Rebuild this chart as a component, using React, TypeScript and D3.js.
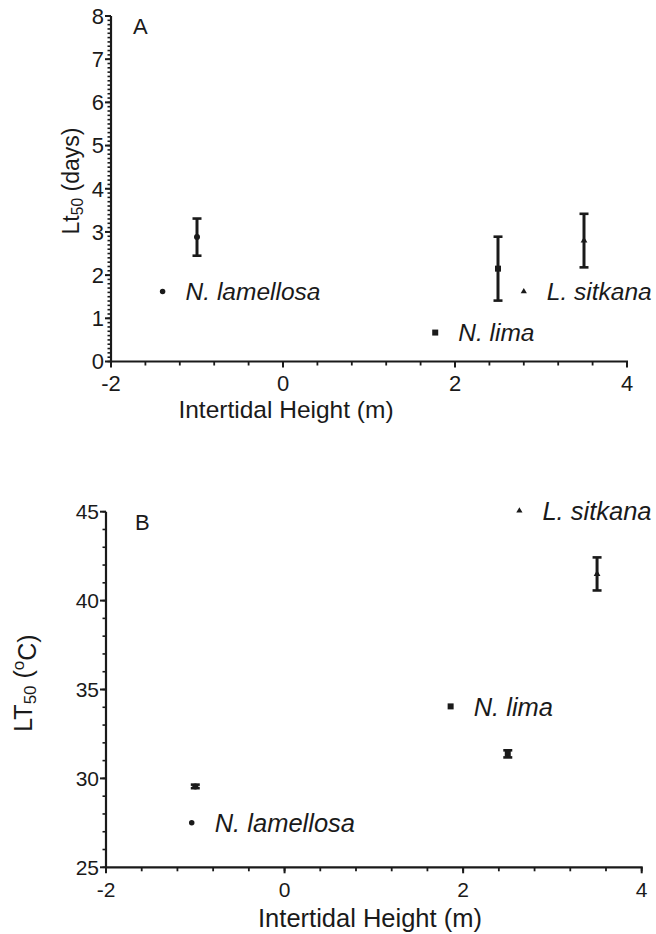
import React from "react";
import * as d3 from "d3";

// species, x positions (intertidal height, m)
const species = ["N. lamellosa", "N. lima", "L. sitkana"];
const shapes = ["circle", "square", "triangle"];
const heights = [-1, 2.5, 3.5];

// panel A: LT50 in days (mean, +/- error)
const daysMean = [2.88, 2.15, 2.8];
const daysErr = [0.43, 0.74, 0.62];
// panel B: LT50 in degrees C
const tempMean = [29.55, 31.38, 41.5];
const tempErr = [0.1, 0.2, 0.93];

// legend anchors (data coordinates)
const legendA = [
  [-1.4, 1.62],
  [1.77, 0.67],
  [2.8, 1.62],
];
const legendB = [
  [-1.04, 27.5],
  [1.86, 34.05],
  [2.63, 45.05],
];

const xTicks = [-2, 0, 2, 4];
const yTicksA = [0, 1, 2, 3, 4, 5, 6, 7, 8];
const yTicksB = [25, 30, 35, 40, 45];

const FONT = "'Liberation Sans', Arial, Helvetica, sans-serif";
const INK = "#1a1a1a";

type PanelProps = {
  top: number;
  left: number;
  right: number;
  bottom: number;
  yDomain: [number, number];
  yTicks: number[];
  yMinorStep: number;
  means: number[];
  errs: number[];
  legend: number[][];
  letter: string;
  letterX: number;
  yLabel: React.ReactNode;
  yLabelX: number;
  yLabelY: number;
  yLabelSize: number;
  titleX: number;
  titleBase: number;
  titleSize: number;
  tickSize: number;
  legendSize: number;
};

const Marker = ({ shape, x, y, s }: { shape: string; x: number; y: number; s: number }) => {
  if (shape === "circle") return <circle cx={x} cy={y} r={s * 0.5} fill={INK} />;
  if (shape === "square")
    return <rect x={x - s / 2} y={y - s / 2} width={s} height={s} fill={INK} />;
  const sym = d3.symbol(d3.symbolTriangle, s * s * 0.55)();
  return <path d={sym || ""} transform={`translate(${x},${y})`} fill={INK} />;
};

const Panel = (p: PanelProps) => {
  const x = d3.scaleLinear().domain([-2, 4]).range([p.left, p.right]);
  const y = d3.scaleLinear().domain(p.yDomain).range([p.bottom, p.top]);
  const xMinor = d3.range(-2, 4.001, 0.4);
  const nMinor = Math.round((p.yDomain[1] - p.yDomain[0]) / p.yMinorStep);
  const yMinor = d3.range(0, nMinor + 1).map((i) => p.yDomain[0] + i * p.yMinorStep);

  return (
    <g fontFamily={FONT} fill={INK}>
      {/* axes */}
      <line x1={p.left} x2={p.left} y1={p.top} y2={p.bottom + 1} stroke={INK} strokeWidth={2.2} />
      <line x1={p.left - 1} x2={p.right + 1} y1={p.bottom} y2={p.bottom} stroke={INK} strokeWidth={2.2} />
      {yMinor.map((v, i) => (
        <line key={"ym" + i} x1={p.left - 3.5} x2={p.left} y1={y(v)} y2={y(v)} stroke={INK} strokeWidth={1.6} />
      ))}
      {p.yTicks.map((v) => (
        <g key={"y" + v}>
          <line x1={p.left - 6} x2={p.left} y1={y(v)} y2={y(v)} stroke={INK} strokeWidth={2} />
          <text x={p.left - 7} y={y(v)} dy="0.36em" textAnchor="end" fontSize={p.tickSize}>
            {v}
          </text>
        </g>
      ))}
      {xMinor.map((v, i) => (
        <line key={"xm" + i} x1={x(v)} x2={x(v)} y1={p.bottom} y2={p.bottom + 4} stroke={INK} strokeWidth={1.8} />
      ))}
      {xTicks.map((v) => (
        <g key={"x" + v}>
          <line x1={x(v)} x2={x(v)} y1={p.bottom} y2={p.bottom + 6} stroke={INK} strokeWidth={2} />
          <text x={x(v)} y={p.bottom + 29.5} textAnchor="middle" fontSize={p.tickSize}>
            {v}
          </text>
        </g>
      ))}
      <text x={p.titleX} y={p.titleBase} textAnchor="middle" fontSize={p.titleSize}>
        Intertidal Height (m)
      </text>
      <text
        transform={`translate(${p.yLabelX},${p.yLabelY}) rotate(-90)`}
        textAnchor="middle"
        fontSize={p.yLabelSize}
      >
        {p.yLabel}
      </text>
      <text x={p.letterX} y={p.top + 18} fontSize={22}>
        {p.letter}
      </text>

      {/* error bars + means */}
      {heights.map((h, i) => {
        const cx = x(h);
        const y0 = y(p.means[i] - p.errs[i]);
        const y1 = y(p.means[i] + p.errs[i]);
        return (
          <g key={"e" + i}>
            <line x1={cx} x2={cx} y1={y0} y2={y1} stroke={INK} strokeWidth={3} />
            <line x1={cx - 4.5} x2={cx + 4.5} y1={y0} y2={y0} stroke={INK} strokeWidth={2.6} />
            <line x1={cx - 4.5} x2={cx + 4.5} y1={y1} y2={y1} stroke={INK} strokeWidth={2.6} />
            <Marker shape={shapes[i]} x={cx} y={y(p.means[i])} s={6} />
          </g>
        );
      })}

      {/* legend labels */}
      {species.map((s, i) => {
        const lx = x(p.legend[i][0]);
        const ly = y(p.legend[i][1]);
        return (
          <g key={"l" + i}>
            <Marker shape={shapes[i]} x={lx} y={ly} s={i === 1 ? 6 : 5.5} />
            <text x={lx + 23} y={ly} dy="0.36em" fontSize={p.legendSize} fontStyle="italic">
              {s}
            </text>
          </g>
        );
      })}
    </g>
  );
};

export default function App() {
  return (
    <svg
      width={656}
      height={934}
      style={{ position: "absolute", left: 0, top: 0, background: "#fff" }}
    >
      <rect width={656} height={934} fill="#fff" />
      <Panel
        top={16}
        bottom={361.5}
        left={111}
        right={627}
        yDomain={[0, 8]}
        yTicks={yTicksA}
        yMinorStep={0.1}
        means={daysMean}
        errs={daysErr}
        legend={legendA}
        letter="A"
        letterX={133}
        yLabel={
          <>
            Lt
            <tspan fontSize="0.68em" dy="0.25em">50</tspan>
            <tspan dy="-0.17em"> (days)</tspan>
          </>
        }
        yLabelX={79}
        yLabelY={181}
        yLabelSize={23}
        titleX={286}
        titleBase={418}
        titleSize={24.5}
        tickSize={22}
        legendSize={24.5}
      />
      <Panel
        top={511.7}
        bottom={867.3}
        left={106}
        right={641.7}
        yDomain={[25, 45]}
        yTicks={yTicksB}
        yMinorStep={1}
        means={tempMean}
        errs={tempErr}
        legend={legendB}
        letter="B"
        letterX={135}
        yLabel={
          <>
            LT
            <tspan fontSize="0.68em" dy="0.25em">50</tspan>
            <tspan dy="-0.17em"> (</tspan>
            <tspan fontSize="0.68em" dy="-0.45em">o</tspan>
            <tspan dy="0.45em">C)</tspan>
          </>
        }
        yLabelX={32}
        yLabelY={683}
        yLabelSize={25}
        titleX={370}
        titleBase={927}
        titleSize={25.5}
        tickSize={21}
        legendSize={25.5}
      />
    </svg>
  );
}
